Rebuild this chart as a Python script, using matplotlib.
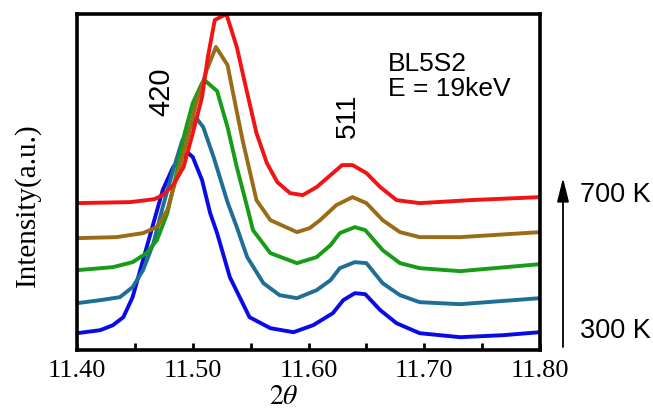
import matplotlib.pyplot as plt
from matplotlib.patches import FancyArrowPatch

plt.rcParams["mathtext.fontset"] = "stix"

# 2theta / intensity (a.u.), one pair per temperature
x_300 = [11.40, 11.420, 11.431, 11.440, 11.448, 11.457, 11.466, 11.474, 11.483, 11.491,
         11.496, 11.500, 11.508, 11.515, 11.521, 11.532, 11.549, 11.567, 11.587, 11.604,
         11.621, 11.630, 11.640, 11.649, 11.662, 11.676, 11.696, 11.731, 11.768, 11.80]
y_300 = [17, 20, 25, 33, 53, 90, 127, 160, 183, 193,
         197, 193, 170, 137, 117, 73, 33, 22, 18, 25,
         37, 50, 57, 56, 40, 27, 17, 13, 15, 18]

x_400 = [11.40, 11.420, 11.437, 11.448, 11.457, 11.466, 11.474, 11.483, 11.491, 11.498,
         11.503, 11.509, 11.518, 11.526, 11.530, 11.538, 11.547, 11.561, 11.575, 11.590,
         11.607, 11.619, 11.627, 11.640, 11.650, 11.664, 11.679, 11.696, 11.731, 11.80]
y_400 = [47, 50, 53, 63, 80, 107, 143, 180, 210, 223,
         232, 223, 193, 163, 148, 123, 93, 67, 55, 52,
         60, 70, 82, 88, 87, 67, 55, 48, 46, 52]

x_500 = [11.40, 11.431, 11.448, 11.460, 11.469, 11.478, 11.486, 11.493, 11.500, 11.508,
         11.511, 11.521, 11.530, 11.538, 11.547, 11.552, 11.567, 11.590, 11.607, 11.619,
         11.627, 11.640, 11.649, 11.664, 11.679, 11.696, 11.731, 11.80]
y_500 = [80, 83, 88, 97, 110, 137, 177, 217, 247, 267,
         269, 259, 223, 183, 143, 120, 97, 87, 93, 105,
         117, 123, 120, 100, 87, 82, 79, 86]

x_600 = [11.40, 11.434, 11.457, 11.469, 11.478, 11.486, 11.495, 11.503, 11.512, 11.520,
         11.530, 11.536, 11.543, 11.555, 11.567, 11.590, 11.601, 11.610, 11.624, 11.638,
         11.650, 11.664, 11.679, 11.696, 11.731, 11.80]
y_600 = [112, 113, 117, 123, 140, 173, 210, 247, 280, 303,
         285, 250, 210, 150, 130, 118, 122, 130, 145, 153,
         147, 130, 118, 113, 113, 118]

x_700 = [11.40, 11.446, 11.467, 11.474, 11.483, 11.492, 11.500, 11.508, 11.513, 11.519,
         11.529, 11.538, 11.547, 11.555, 11.564, 11.573, 11.584, 11.595, 11.607, 11.619,
         11.629, 11.638, 11.650, 11.662, 11.676, 11.696, 11.740, 11.80]
y_700 = [147, 148, 151, 155, 165, 183, 217, 253, 293, 330,
         336, 303, 257, 217, 187, 168, 157, 155, 163, 175,
         185, 185, 177, 163, 150, 147, 150, 153]

curves = [
    (x_300, y_300, "#0a0ae6"),
    (x_400, y_400, "#1f6e96"),
    (x_500, y_500, "#169c16"),
    (x_600, y_600, "#9a6c18"),
    (x_700, y_700, "#f01414"),
]
x_ticks = [11.40, 11.50, 11.60, 11.70, 11.80]
x_minor = [11.45, 11.55, 11.65, 11.75]

fig = plt.figure(figsize=(6.53, 4.12), dpi=100)
ax = fig.add_axes([0.118, 0.150, 0.709, 0.816])

for xs, ys, c in curves:
    ax.plot(xs, ys, color=c, lw=2.8, solid_joinstyle="round", solid_capstyle="butt")

ax.set_xlim(11.40, 11.80)
ax.set_ylim(0, 336)
ax.set_yticks([])
ax.set_xticks(x_ticks)
ax.set_xticks(x_minor, minor=True)
ax.set_xticklabels([f"{t:.2f}" for t in x_ticks], family="Liberation Serif", fontsize=19)
ax.tick_params(axis="x", which="both", direction="in", length=5, width=2, pad=7)
for s in ax.spines.values():
    s.set_linewidth(2.6)

sans = "Liberation Sans"
ax.text(11.4726, 258, "420", rotation=90, ha="center", va="center", family=sans, fontsize=21)
ax.text(11.634, 234, "511", rotation=90, ha="center", va="center", family=sans, fontsize=20)
ax.text(11.6685, 274, "BL5S2\nE = 19keV", ha="left", va="center", family=sans,
        fontsize=19, linespacing=1.05)

fig.text(284 / 653, 2 / 412, r"$2\theta$", ha="center", va="bottom", fontsize=20)
fig.text(27 / 653, 1 - 205 / 412, "Intensity(a.u.)", rotation=90, ha="center", va="center",
         family="Liberation Serif", fontsize=21)

# temperature arrow on the right
fig.patches.append(FancyArrowPatch(
    (563 / 653, 1 - 347 / 412), (563 / 653, 1 - 178 / 412), transform=fig.transFigure,
    arrowstyle="-|>,head_length=0.8,head_width=0.2", mutation_scale=18, lw=1.3,
    color="black", shrinkA=0, shrinkB=0))
fig.text(580 / 653, 1 - 195 / 412, "700 K", ha="left", va="center", family=sans, fontsize=19.5)
fig.text(580 / 653, 1 - 331 / 412, "300 K", ha="left", va="center", family=sans, fontsize=19.5)

fig.savefig("out.png", dpi=100)
